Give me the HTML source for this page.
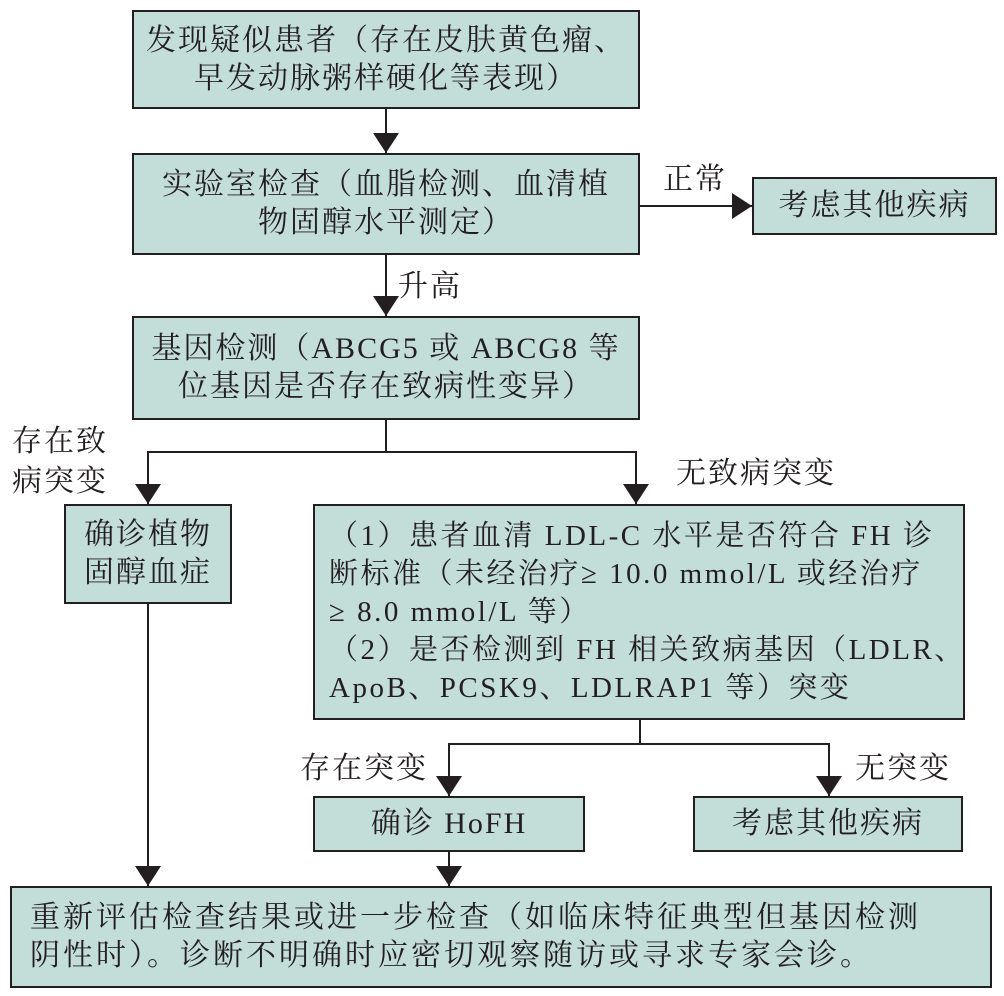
<!DOCTYPE html>
<html><head><meta charset="utf-8"><style>
body{margin:0;width:1004px;height:996px;background:#fff;position:relative;overflow:hidden;font-family:"Liberation Serif","Noto Serif CJK SC","Noto Sans CJK SC",serif;color:#231f20}
.b{position:absolute;background:#c3ddd8;border:2px solid #231f20;box-sizing:border-box;display:flex;align-items:center;justify-content:center;text-align:center;font-size:30px;line-height:38px;letter-spacing:2px;white-space:nowrap}
.t{position:absolute;font-size:30px;line-height:38px;white-space:nowrap;letter-spacing:2px}
</style></head><body>
<svg width="1004" height="996" style="position:absolute;left:0;top:0">
<defs>
<marker id="m" viewBox="0 0 10 10" markerWidth="20" markerHeight="26" refX="10" refY="5" orient="auto" markerUnits="userSpaceOnUse" preserveAspectRatio="none"><path d="M0,0 L10,5 L0,10z" fill="#231f20"/></marker></defs>
<g stroke="#231f20" stroke-width="2" fill="none">
<line x1="386" y1="108" x2="386" y2="153" marker-end="url(#m)"/>
<line x1="386" y1="255" x2="386" y2="316" marker-end="url(#m)"/>
<line x1="640" y1="206" x2="752" y2="206" marker-end="url(#m)"/>
<polyline points="386,420 386,452"/>
<line x1="148" y1="452" x2="636" y2="452"/>
<line x1="148" y1="451" x2="148" y2="504" marker-end="url(#m)"/>
<line x1="636" y1="451" x2="636" y2="504" marker-end="url(#m)"/>
<line x1="148" y1="604" x2="148" y2="886" marker-end="url(#m)"/>
<line x1="640" y1="720" x2="640" y2="744"/>
<line x1="449" y1="744" x2="829" y2="744"/>
<line x1="449" y1="743" x2="449" y2="796" marker-end="url(#m)"/>
<line x1="829" y1="743" x2="829" y2="796" marker-end="url(#m)"/>
<line x1="449" y1="852" x2="449" y2="886" marker-end="url(#m)"/>
</g></svg>
<div class="b" style="left:132px;top:10px;width:508px;height:99px">发现疑似患者（存在皮肤黄色瘤、<br>早发动脉粥样硬化等表现）</div>
<div class="b" style="left:132px;top:153px;width:508px;height:102px">实验室检查（血脂检测、血清植<br>物固醇水平测定）</div>
<div class="b" style="left:752px;top:177px;width:245px;height:58px">考虑其他疾病</div>
<div class="b" style="left:132px;top:316px;width:508px;height:104px">基因检测（ABCG5 或 ABCG8 等<br>位基因是否存在致病性变异）</div>
<div class="b" style="left:64px;top:504px;width:168px;height:100px">确诊植物<br>固醇血症</div>
<div class="b" style="left:313px;top:504px;width:652px;height:216px;justify-content:flex-start;text-align:left;padding-left:14px;font-size:29px;letter-spacing:2.5px">（1）患者血清 LDL-C 水平是否符合 FH 诊<br>断标准（未经治疗≥ 10.0 mmol/L 或经治疗<br>≥ 8.0 mmol/L 等）<br>（2）是否检测到 FH 相关致病基因（LDLR、<br>ApoB、PCSK9、LDLRAP1 等）突变</div>
<div class="b" style="left:313px;top:796px;width:272px;height:56px">确诊 HoFH</div>
<div class="b" style="left:693px;top:796px;width:270px;height:56px">考虑其他疾病</div>
<div class="b" style="left:10px;top:886px;width:982px;height:102px;justify-content:flex-start;text-align:left;padding-left:18px;letter-spacing:3px">重新评估检查结果或进一步检查（如临床特征典型但基因检测<br>阴性时）。诊断不明确时应密切观察随访或寻求专家会诊。</div>
<div class="t" style="left:663px;top:161px">正常</div>
<div class="t" style="left:398px;top:268px">升高</div>
<div class="t" style="left:12px;top:422px;line-height:40px">存在致<br>病突变</div>
<div class="t" style="left:676px;top:455px">无致病突变</div>
<div class="t" style="left:300px;top:750px">存在突变</div>
<div class="t" style="left:855px;top:750px">无突变</div>
</body></html>
